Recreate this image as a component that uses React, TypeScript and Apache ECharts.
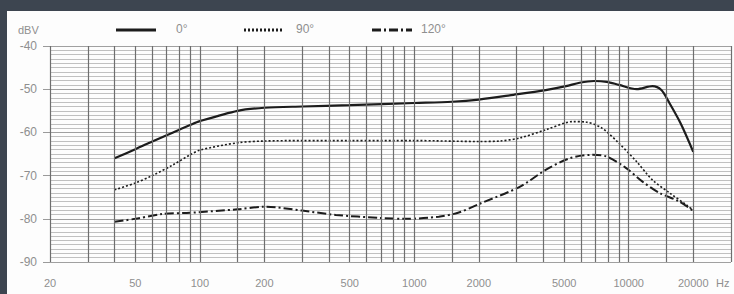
import React, { useEffect, useRef } from "react";
import * as echarts from "echarts";

// Frequency response of a microphone (dBV vs Hz)
const seriesNames = ["0°", "90°", "120°"];

const freq0 = [40, 50, 60, 75, 90, 100, 150, 200, 300, 500, 1000, 1500, 2000, 2900, 4100, 5100, 5900, 6900, 7900, 9000, 10900, 12900, 14200, 15400, 17500, 20000];
const db0 = [-66, -63.9, -62.1, -60, -58.3, -57.4, -55, -54.3, -54, -53.7, -53.2, -52.9, -52.4, -51.3, -50.2, -49.3, -48.5, -48.1, -48.3, -49, -50, -49.3, -50.2, -53, -58, -64.5];

const freq90 = [40, 50, 60, 75, 90, 100, 150, 200, 300, 500, 1000, 2000, 2500, 3100, 4100, 5500, 6300, 7500, 9000, 10900, 12900, 15500, 18600, 20000];
const db90 = [-73.3, -71.7, -70, -67.5, -65.2, -64.1, -62.4, -62, -61.9, -61.9, -61.9, -62.1, -62, -61.3, -59.4, -57.5, -57.6, -59, -62.5, -66.8, -71, -74, -76.8, -78];

const freq120 = [40, 50, 67, 90, 150, 200, 300, 430, 690, 920, 1300, 1600, 2000, 3100, 4100, 5300, 6800, 7900, 9700, 11600, 13900, 17200, 20000];
const db120 = [-80.7, -80, -78.9, -78.6, -77.8, -77.2, -78.1, -79.1, -79.8, -80, -79.5, -78.6, -76.6, -72.6, -68.7, -66, -65.2, -65.6, -68.2, -71.4, -74, -76, -78.2];

const gridFreqs = [20, 30, 40, 50, 60, 70, 80, 90, 100, 150, 200, 300, 400, 500, 600, 700, 800, 900, 1000, 1500, 2000, 3000, 4000, 5000, 6000, 7000, 8000, 9000, 10000, 15000, 20000, 30000];
const tickLabels = [20, 50, 100, 200, 500, 1000, 2000, 5000, 10000, 20000];

const X_MIN = 20;
const X_MAX = 30000;
const Y_MIN = -90;
const Y_MAX = -40;

const zip = (xs: number[], ys: number[]) => xs.map((x, i) => [x, ys[i]]);

export default function App() {
  const ref = useRef<HTMLDivElement>(null);

  useEffect(() => {
    if (!ref.current) return;
    const chart = echarts.init(ref.current, undefined, { renderer: "svg" });
    const textColor = "#8f8f8f";
    const font = "Liberation Sans, Arial, sans-serif";
    const lineColor = "#1c1c1c";
    const dashes: (number[] | "solid")[] = ["solid", [2, 2], [9, 3, 2, 3]];
    const widths = [2.2, 1.6, 2];
    const legendX = [116, 244, 372];
    const legendTextX = [176, 296, 421];

    const legendGraphics: any[] = [];
    seriesNames.forEach((name, i) => {
      legendGraphics.push({
        type: "line",
        z: 10,
        silent: true,
        shape: { x1: legendX[i], y1: 30, x2: legendX[i] + 40, y2: 30 },
        style: {
          stroke: lineColor,
          lineWidth: 3,
          lineDash: dashes[i] === "solid" ? null : dashes[i],
        },
      });
      legendGraphics.push({
        type: "text",
        z: 10,
        left: legendTextX[i],
        top: 23,
        style: { text: name, fill: textColor, fontSize: 12, fontFamily: font },
      });
    });

    chart.setOption({
      animation: false,
      backgroundColor: "#3d4550",
      graphic: [
        {
          type: "rect",
          z: -10,
          silent: true,
          shape: { x: 7, y: 11, width: 727, height: 283 },
          style: { fill: "#fdfdfd" },
        },
        {
          type: "text",
          left: 18,
          top: 24,
          z: 10,
          style: { text: "dBV", fill: textColor, fontSize: 11, fontFamily: font },
        },
        {
          type: "text",
          left: 716,
          top: 277,
          z: 10,
          style: { text: "Hz", fill: textColor, fontSize: 11, fontFamily: font },
        },
        ...legendGraphics,
      ],
      grid: { left: 50, top: 46, right: 3, bottom: 32 },
      xAxis: {
        type: "log",
        logBase: 10,
        min: X_MIN,
        max: X_MAX,
        axisLine: { show: false },
        axisTick: { show: false },
        axisLabel: { show: false },
        splitLine: { show: false },
      },
      yAxis: {
        type: "value",
        min: Y_MIN,
        max: Y_MAX,
        interval: 10,
        axisLine: { show: false },
        axisTick: { show: true, length: 7, lineStyle: { color: "#9a9a9a" } },
        axisLabel: { color: textColor, fontSize: 12, fontFamily: font, margin: 13 },
        splitLine: { show: true, lineStyle: { color: "#a0a0a0", width: 1 } },
        minorTick: { show: false, splitNumber: 10 },
        minorSplitLine: { show: true, lineStyle: { color: "#c0c0c0", width: 1 } },
      },
      series: [
        {
          name: "grid",
          type: "line",
          data: [],
          z: 1,
          silent: true,
          markLine: {
            silent: true,
            symbol: ["none", "none"],
            animation: false,
            lineStyle: { color: "#6e6e6e", width: 1.2, type: "solid" },
            label: {
              show: true,
              position: "start",
              distance: 15,
              color: textColor,
              fontSize: 11,
              fontFamily: font,
              formatter: (p: any) => (tickLabels.includes(p.value) ? String(p.value) : ""),
            },
            data: gridFreqs.map((f) => ({ xAxis: f })),
          },
        },
        ...seriesNames.map((name, i) => ({
          name,
          type: "line",
          smooth: 0.3,
          symbol: "none",
          z: 3,
          data: [zip(freq0, db0), zip(freq90, db90), zip(freq120, db120)][i],
          lineStyle: { color: lineColor, width: widths[i], type: dashes[i] },
          itemStyle: { color: lineColor },
        })),
      ],
    });
    return () => chart.dispose();
  }, []);

  return (
    <div
      ref={ref}
      style={{ position: "absolute", left: 0, top: 0, width: 734, height: 294 }}
    />
  );
}
